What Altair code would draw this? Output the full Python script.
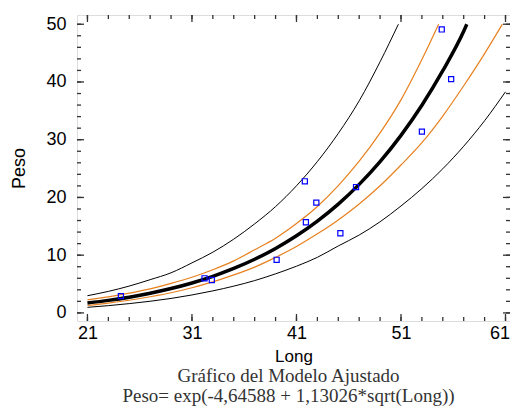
import altair as alt
import pandas as pd

# Fitted model curve
fit_x = [21, 23, 25, 27, 29, 31, 33, 35, 37, 39, 41, 43, 45, 47, 49, 51, 53, 55, 57, 57.3]
fit_y = [1.71, 2.17, 2.73, 3.41, 4.22, 5.19, 6.34, 7.70, 9.29, 11.16, 13.35, 15.89, 18.84,
         22.26, 26.20, 30.75, 35.97, 41.95, 48.78, 50.0]

# Confidence limits (orange)
conf_up_x = [21, 23, 25, 27, 29, 31, 33, 35, 37, 39, 41, 43, 45, 47, 49, 51, 53, 54.6]
conf_up_y = [2.27, 2.78, 3.42, 4.16, 5.11, 6.18, 7.48, 9.01, 10.95, 12.95, 15.48, 18.43,
             22.05, 26.27, 31.18, 36.90, 43.88, 50.0]
conf_lo_x = [21, 23, 25, 27, 29, 31, 33, 35, 37, 39, 41, 43, 45, 47, 49, 51, 53, 55, 57, 59, 60.7]
conf_lo_y = [1.28, 1.70, 2.19, 2.80, 3.49, 4.36, 5.37, 6.58, 7.94, 9.62, 11.51, 13.70, 16.11,
             18.87, 22.02, 25.62, 29.48, 34.10, 39.34, 44.92, 50.0]

# Prediction limits (thin black)
pred_up_x = [21, 23, 25, 27, 29, 31, 33, 35, 37, 39, 41, 43, 45, 47, 49, 50.75]
pred_up_y = [2.98, 3.73, 4.65, 5.76, 6.95, 8.67, 10.52, 12.78, 15.43, 18.42, 22.02, 26.22,
             31.09, 36.73, 43.50, 50.0]
pred_lo_x = [21, 23, 25, 27, 29, 31, 33, 35, 37, 39, 41, 43, 45, 47, 49, 51, 53, 55, 57, 59, 61]
pred_lo_y = [0.97, 1.26, 1.61, 2.02, 2.51, 3.11, 3.82, 4.64, 5.60, 6.77, 8.09, 9.63, 11.60,
             13.49, 15.79, 18.52, 21.54, 24.97, 28.87, 33.29, 38.30]

# Observations
pts_x = [24.2, 32.2, 32.9, 39.1, 41.8, 41.9, 42.9, 45.2, 46.7, 53.0, 54.9, 55.8]
pts_y = [2.9, 6.0, 5.7, 9.2, 22.8, 15.7, 19.1, 13.8, 21.8, 31.4, 49.1, 40.5]

# Axis ticks
x_major = [21, 31, 41, 51, 61]
x_minor = list(range(21, 62, 2))
y_major = [0, 10, 20, 30, 40, 50]
y_minor = list(range(0, 51, 2))

W, H = 433, 306
XD = [20, 61.43]
YD = [-1.4, 51.6]
xs = alt.Scale(domain=XD, nice=False, zero=False)
ys = alt.Scale(domain=YD, nice=False, zero=False)

LF = "Liberation Sans"
x_axis = alt.Axis(
    values=x_major, ticks=False, tickSize=0, domain=False, grid=False,
    labelFont=LF, labelFontSize=18, labelColor="black", labelPadding=3,
    labelAlign=alt.condition("datum.value == 61", alt.value("right"), alt.value("center")),
    labelOffset=alt.condition("datum.value == 61", alt.value(4), alt.value(0)),
    labelBound=False, labelFlush=False,
    title="Long", titleFont=LF, titleFontSize=17, titleFontWeight="normal",
    titleColor="black", titlePadding=6)
y_axis = alt.Axis(
    values=y_major, ticks=False, tickSize=0, domain=False, grid=False,
    labelFont=LF, labelFontSize=18, labelColor="black", labelPadding=11,
    title="Peso", titleFont=LF, titleFontSize=18, titleFontWeight="normal",
    titleColor="black", titlePadding=17)

def X(f):
    return alt.X(f, type="quantitative", scale=xs, axis=x_axis, title="Long")

def Y(f):
    return alt.Y(f, type="quantitative", scale=ys, axis=y_axis, title="Peso")

fit_df = pd.DataFrame({"Long": fit_x, "Peso": fit_y})
conf_df = pd.concat([
    pd.DataFrame({"Long": conf_up_x, "Peso": conf_up_y, "s": "up"}),
    pd.DataFrame({"Long": conf_lo_x, "Peso": conf_lo_y, "s": "lo"}),
])
pred_df = pd.concat([
    pd.DataFrame({"Long": pred_up_x, "Peso": pred_up_y, "s": "up"}),
    pd.DataFrame({"Long": pred_lo_x, "Peso": pred_lo_y, "s": "lo"}),
])
pts_df = pd.DataFrame({"Long": pts_x, "Peso": pts_y})

main = alt.Chart(fit_df).mark_line(color="black", strokeWidth=3.5, interpolate="monotone").encode(
    x=X("Long"), y=Y("Peso"))
conf = alt.Chart(conf_df).mark_line(color="#e8801f", strokeWidth=1.2, interpolate="monotone").encode(
    x=X("Long"), y=Y("Peso"), detail="s:N")
pred = alt.Chart(pred_df).mark_line(color="black", strokeWidth=1, interpolate="monotone").encode(
    x=X("Long"), y=Y("Peso"), detail="s:N")
pts = alt.Chart(pts_df).mark_point(shape="square", filled=False, size=26, color="#0000ff",
                                   strokeWidth=1.2, opacity=1).encode(
    x=X("Long"), y=Y("Peso"))

TC = "#333333"
def xticks(vals, ln):
    d = pd.DataFrame({"v": vals})
    b = alt.Chart(d).mark_rule(color=TC, strokeWidth=1.3).encode(
        x=X("v"), y=alt.value(H), y2=alt.value(H - ln))
    t = alt.Chart(d).mark_rule(color=TC, strokeWidth=1.3).encode(
        x=X("v"), y=alt.value(0), y2=alt.value(ln))
    return [b, t]

def yticks(vals, ln):
    d = pd.DataFrame({"v": vals})
    l = alt.Chart(d).mark_rule(color=TC, strokeWidth=1.3).encode(
        y=Y("v"), x=alt.value(0), x2=alt.value(ln))
    r = alt.Chart(d).mark_rule(color=TC, strokeWidth=1.3).encode(
        y=Y("v"), x=alt.value(W), x2=alt.value(W - ln))
    return [l, r]

ticks = xticks(x_minor, 4) + xticks(x_major, 7) + yticks(y_minor, 4) + yticks(y_major, 7)

chart = alt.layer(main, pred, conf, pts, *ticks).properties(
    width=W, height=H,
    autosize=alt.AutoSizeParams(type="none"),
    padding={"left": 69, "top": 7, "right": 0, "bottom": 86},
    title=alt.TitleParams(
        text=["Gráfico del Modelo Ajustado", "Peso= exp(-4,64588 + 1,13026*sqrt(Long))"],
        orient="bottom", anchor="middle", font="Liberation Serif", fontSize=19,
        fontWeight="normal", color="#333333", lineHeight=20, offset=3, dx=-5),
).configure_view(stroke="#333333", strokeWidth=2).configure(background="white")

chart.save("out.html", embed_options={"renderer": "svg", "actions": False})
